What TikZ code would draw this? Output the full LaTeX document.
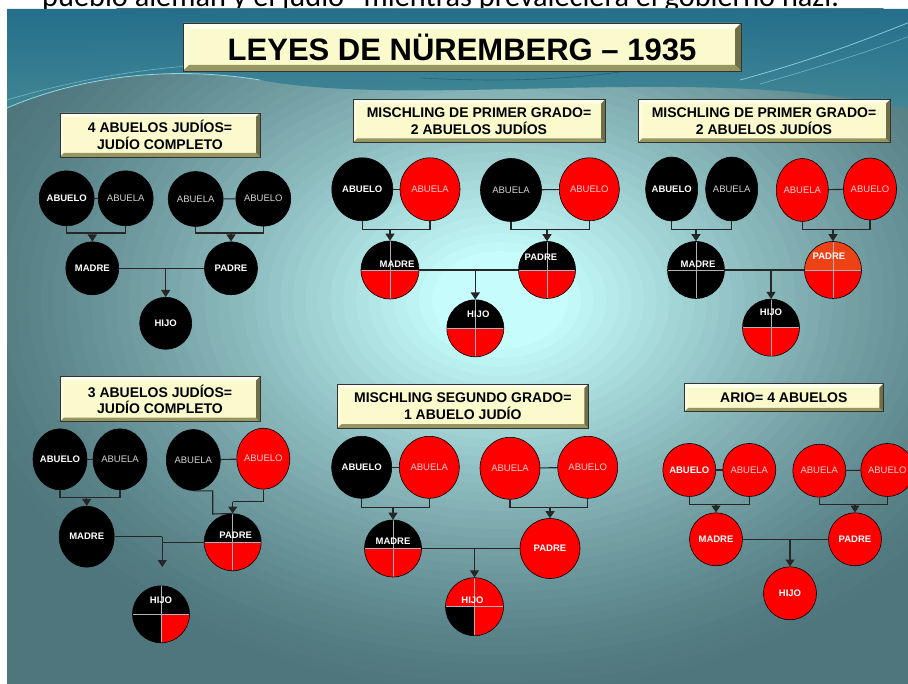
\documentclass[tikz,border=0pt]{standalone}
\usepackage{fontspec}
\setmainfont{Liberation Sans}
\newfontfamily\calibri{Carlito}
\usetikzlibrary{arrows.meta, shapes.geometric}

\definecolor{slidelight}{RGB}{198,252,252}
\definecolor{slidedark}{RGB}{78,118,124}
\definecolor{slidetop}{RGB}{34,110,140}
\definecolor{bandlow}{RGB}{66,136,150}
\definecolor{swoosh}{RGB}{170,235,245}
\definecolor{paper}{RGB}{250,250,205}
\definecolor{bevellight}{RGB}{255,255,236}
\definecolor{beveldark}{RGB}{150,150,96}
\definecolor{jewred}{RGB}{255,0,0}
\definecolor{padreorange}{RGB}{236,66,22}

\tikzset{
  >={Triangle[width=9pt,length=7pt]},
  link/.style={draw=black!85, line width=1.1pt},
  arr/.style={link, ->},
  person/.style={ellipse, draw=black, line width=0.6pt, inner sep=-3pt,
    text=white, font=\fontsize{9.5}{10}\selectfont\bfseries},
  dims/.style 2 args={minimum width=#1, minimum height=#2},
  soft/.style={font=\fontsize{9.5}{10}\selectfont, text opacity=0.82},
  jew/.style={person, fill=black},
  aryan/.style={person, fill=jewred},
  quarters/.style n args={4}{person, path picture={
    \fill[#1] (path picture bounding box.center) rectangle (path picture bounding box.north west);
    \fill[#2] (path picture bounding box.center) rectangle (path picture bounding box.north east);
    \fill[#3] (path picture bounding box.center) rectangle (path picture bounding box.south west);
    \fill[#4] (path picture bounding box.center) rectangle (path picture bounding box.south east);
    \draw[gray!60, line width=0.5pt]
      (path picture bounding box.north) -- (path picture bounding box.south)
      (path picture bounding box.west) -- (path picture bounding box.east);}},
  kidlbl/.style={text=white, font=\fontsize{9.5}{10}\selectfont\bfseries},
  tag/.style={draw=black!80, fill=paper, line width=0.6pt, align=center, inner sep=0pt,
    font=\fontsize{14}{16.5}\selectfont\bfseries},
  bevel/.style={path picture={
    \path (path picture bounding box.south west) coordinate (bsw)
          (path picture bounding box.south east) coordinate (bse)
          (path picture bounding box.north west) coordinate (bnw)
          (path picture bounding box.north east) coordinate (bne);
    \fill[bevellight] (bnw) -- (bne) -- ([shift={(-#1,-#1)}]bne) -- ([shift={(#1,-#1)}]bnw) -- cycle;
    \fill[bevellight!50!paper] (bnw) -- (bsw) -- ([shift={(#1,#1)}]bsw) -- ([shift={(#1,-#1)}]bnw) -- cycle;
    \fill[beveldark] (bsw) -- (bse) -- ([shift={(-#1,#1)}]bse) -- ([shift={(#1,#1)}]bsw) -- cycle;
    \fill[beveldark!75!black] (bse) -- (bne) -- ([shift={(-#1,-#1)}]bne) -- ([shift={(-#1,#1)}]bse) -- cycle;}},
}

\begin{document}
\begin{tikzpicture}[x=1pt, y=-1pt]
  \useasboundingbox (0,0) rectangle (908,684);
  \clip (0,0) rectangle (908,684);
  \fill[white] (0,0) rectangle (908,684);
  \node[anchor=base west, inner sep=0pt, font=\calibri\fontsize{30.3}{33}\selectfont] (quote) at (42,7)
    {pueblo alemán y el judío” mientras prevaleciera el gobierno nazi.};

  % slide background
  \begin{scope}
    \clip (7,9) rectangle (920,700);
    \fill[slidedark] (7,9) rectangle (920,700);
    \foreach \i in {0,...,39} {
      \pgfmathsetmacro\r{1-0.0225*\i}
      \pgfmathsetmacro\p{100*(\i/39)^1.3}
      \fill[slidelight!\p!slidedark] (500,300) ellipse [x radius=560*\r, y radius=400*\r];
    }
    \shade[top color=slidetop, bottom color=bandlow, opacity=0.95]
      (7,9) -- (920,9) -- (920,112) .. controls (720,60) and (420,110) .. (260,80)
      .. controls (150,62) and (60,85) .. (7,108) -- cycle;
    \draw[swoosh, opacity=0.8, line width=0.8pt] (7,108) .. controls (60,85) and (150,62) .. (260,80);
    \draw[swoosh, opacity=0.5, line width=0.6pt] (7,100) .. controls (120,66) and (240,56) .. (330,70);
    \draw[swoosh, opacity=0.7, line width=0.8pt] (740,80) .. controls (820,58) and (870,38) .. (920,18);
    \draw[swoosh, opacity=0.5, line width=0.6pt] (760,84) .. controls (830,64) and (880,48) .. (920,32);
    \draw[slidetop!60!black, opacity=0.5, line width=0.6pt] (420,78) .. controls (500,82) and (560,80) .. (620,72);
  \end{scope}

  \node[tag, bevel=6pt, dims={558}{48}, font=\fontsize{31}{34}\selectfont\bfseries] (title) at (462,47)
    {LEYES DE NÜREMBERG – 1935};

  % 4 abuelos judios
  \node[tag, bevel=4pt, dims={200}{44}] (t1) at (160,135) {4 ABUELOS JUDÍOS=\\JUDÍO COMPLETO};
  \node[jew, dims={55}{55}] (a1) at (66.7,198.3) {ABUELO};
  \node[jew, soft, dims={55}{55}] (b1) at (125.7,198.3) {ABUELA};
  \node[jew, soft, dims={55}{55}] (c1) at (195.7,199) {ABUELA};
  \node[jew, soft, dims={55}{55}] (d1) at (263.3,198.7) {ABUELO};
  \node[jew, dims={53}{53}] (m1) at (92.3,268.3) {MADRE};
  \node[jew, dims={53}{53}] (p1) at (231,268.3) {PADRE};
  \node[jew, dims={52}{52}] (h1) at (165.7,323.3) {HIJO};
  \coordinate (j1) at (92.3,233);
  \coordinate (l1) at (231,233);
  \coordinate (k1) at (165.7,268.3);
  \draw[link] (a1) -- (b1);
  \draw[link] (c1) -- (d1);
  \draw[link] (a1.south) |- (j1) -| (b1.south);
  \draw[link] (c1.south) |- (l1) -| (d1.south);
  \draw[arr] (j1) -- (m1);
  \draw[arr] (l1) -- (p1);
  \draw[link] (m1) -- (p1);
  \draw[arr] (k1) -- (h1);

  % mischling de primer grado, madre
  \node[tag, bevel=4pt, dims={252}{43}] (t2) at (479,121) {MISCHLING DE PRIMER GRADO=\\2 ABUELOS JUDÍOS};
  \node[jew, dims={61}{63}] (a2) at (362.3,189.3) {ABUELO};
  \node[aryan, soft, dims={60}{63}] (b2) at (430,189.3) {ABUELA};
  \node[jew, soft, dims={61}{63}] (c2) at (511,190) {ABUELA};
  \node[aryan, soft, dims={60}{63}] (d2) at (589.3,189.3) {ABUELO};
  \node[quarters={black}{black}{jewred}{jewred}, dims={58}{58},
    label={[kidlbl, xshift=7pt, yshift=6pt]center:MADRE}] (m2) at (390,270) {};
  \node[quarters={black}{black}{jewred}{jewred}, dims={57}{57},
    label={[kidlbl, xshift=-6pt, yshift=13pt]center:PADRE}] (p2) at (547,270) {};
  \node[quarters={black}{black}{jewred}{jewred}, dims={57}{57},
    label={[kidlbl, xshift=3pt, yshift=14pt]center:HIJO}] (h2) at (475.3,328.3) {};
  \coordinate (j2) at (390,229.3);
  \coordinate (l2) at (547,229.3);
  \coordinate (k2) at (475.3,270);
  \draw[link] (a2) -- (b2);
  \draw[link] (c2) -- (d2);
  \draw[link] (a2.south) |- (j2) -| (b2.south);
  \draw[link] (c2.south) |- (l2) -| (d2.south);
  \draw[arr] (j2) -- (m2);
  \draw[arr] (l2) -- (p2);
  \draw[link] (m2) -- (p2);
  \draw[arr] (k2) -- (h2);

  % mischling de primer grado, padre
  \node[tag, bevel=4pt, dims={252}{43}] (t3) at (764,121) {MISCHLING DE PRIMER GRADO=\\2 ABUELOS JUDÍOS};
  \node[jew, dims={52}{64}] (a3) at (671.7,189) {ABUELO};
  \node[jew, soft, dims={52}{64}] (b3) at (731.7,189) {ABUELA};
  \node[aryan, soft, dims={52}{63}] (c3) at (802.3,190) {ABUELA};
  \node[aryan, soft, dims={53}{62}] (d3) at (870,189) {ABUELO};
  \node[quarters={black}{black}{black}{black}, dims={57}{57},
    label={[kidlbl, xshift=2pt, yshift=6pt]center:MADRE}] (m3) at (696,270) {};
  \node[quarters={padreorange}{padreorange}{jewred}{jewred}, dims={57}{57},
    label={[kidlbl, xshift=-4pt, yshift=14pt]center:PADRE}] (p3) at (833,270) {};
  \node[quarters={black}{black}{jewred}{jewred}, dims={57}{57},
    label={[kidlbl, yshift=15pt]center:HIJO}] (h3) at (771,327.7) {};
  \coordinate (j3) at (696,229.3);
  \coordinate (l3) at (833,229.3);
  \coordinate (k3) at (771,270);
  \draw[link] (c3) -- (d3);
  \draw[link] (a3.south) |- (j3) -| (b3.south);
  \draw[link] (c3.south) |- (l3) -| (d3.south);
  \draw[arr] (j3) -- (m3);
  \draw[arr] (l3) -- (p3);
  \draw[link] (m3) -- (p3);
  \draw[arr] (k3) -- (h3);

  % 3 abuelos judios
  \node[tag, bevel=4pt, dims={200}{45}] (t4) at (160,399.2) {3 ABUELOS JUDÍOS=\\JUDÍO COMPLETO};
  \node[jew, dims={54}{61}] (a4) at (60,459.3) {ABUELO};
  \node[jew, soft, dims={54}{61}] (b4) at (120,459.3) {ABUELA};
  \node[jew, soft, dims={54}{61}] (c4) at (193.3,460) {ABUELA};
  \node[aryan, soft, dims={53}{61}] (d4) at (263.3,458.7) {ABUELO};
  \node[jew, dims={55}{61}] (m4) at (86.7,536.7) {MADRE};
  \node[quarters={black}{black}{jewred}{jewred}, dims={57}{57},
    label={[kidlbl, xshift=3pt, yshift=7pt]center:PADRE}] (p4) at (232.7,542.3) {};
  \node[quarters={black}{black}{black}{jewred}, dims={57}{57},
    label={[kidlbl, yshift=14pt]center:HIJO}] (h4) at (161,614.3) {};
  \coordinate (j4) at (86.7,497.3);
  \coordinate (l4) at (232.7,501.7);
  \coordinate (e4) at (212.7,514);
  \coordinate (k4) at (162.3,536.7);
  \coordinate (z4) at (162.3,567);
  \draw[link] (a4) -- (b4);
  \draw[link] (c4) -- (d4);
  \draw[link] (a4.south) |- (j4) -| (b4.south);
  \draw[arr] (j4) -- (m4);
  \draw[link] (c4.south) -| (e4) -- (p4.north);
  \draw[link] (d4.south) |- (l4);
  \draw[arr] (l4) -- (p4);
  \draw[link] (m4) -- (k4);
  \draw[link] (p4.west) -- (p4.west -| k4);
  \draw[arr] (k4) -- (z4);

  % mischling segundo grado
  \node[tag, bevel=4pt, dims={251}{44}] (t5) at (462.8,406.2) {MISCHLING SEGUNDO GRADO=\\1 ABUELO JUDÍO};
  \node[jew, dims={60}{62}] (a5) at (361.7,467.3) {ABUELO};
  \node[aryan, soft, dims={60}{62}] (b5) at (429.3,467.3) {ABUELA};
  \node[aryan, soft, dims={60}{62}] (c5) at (510,468.3) {ABUELA};
  \node[aryan, soft, dims={60}{62}] (d5) at (587.7,467.3) {ABUELO};
  \node[quarters={black}{black}{jewred}{jewred}, dims={57}{57},
    label={[kidlbl, yshift=7pt]center:MADRE}] (m5) at (393,548.5) {};
  \node[aryan, dims={60}{60}] (p5) at (550,548.5) {PADRE};
  \node[quarters={jewred}{jewred}{black}{jewred}, dims={58}{58},
    label={[kidlbl, xshift=-2pt, yshift=6pt]center:HIJO}] (h5) at (474.5,606.7) {};
  \coordinate (j5) at (393,507.7);
  \coordinate (l5) at (550,507.7);
  \coordinate (k5) at (474.5,548.5);
  \draw[link] (a5) -- (b5);
  \draw[link] (c5) -- (d5);
  \draw[link] (a5.south) |- (j5) -| (b5.south);
  \draw[link] (c5.south) |- (l5) -| (d5.south);
  \draw[arr] (j5) -- (m5);
  \draw[arr] (l5) -- (p5);
  \draw[link] (m5) -- (p5);
  \draw[arr] (k5) -- (h5);

  % ario
  \node[tag, bevel=4pt, dims={199}{28}] (t6) at (783.8,397.8) {ARIO= 4 ABUELOS};
  \node[aryan, dims={53}{53}] (a6) at (689.3,470) {ABUELO};
  \node[aryan, soft, dims={53}{53}] (b6) at (749.3,470) {ABUELA};
  \node[aryan, soft, dims={53}{53}] (c6) at (819.3,470.7) {ABUELA};
  \node[aryan, soft, dims={53}{53}] (d6) at (887.3,470) {ABUELO};
  \node[aryan, dims={53}{53}] (m6) at (716,539.3) {MADRE};
  \node[aryan, dims={53}{53}] (p6) at (855,539.3) {PADRE};
  \node[aryan, dims={53}{53}] (h6) at (790,593.3) {HIJO};
  \coordinate (j6) at (716,504.3);
  \coordinate (l6) at (855,504.3);
  \coordinate (k6) at (790,539.3);
  \draw[link] (a6) -- (b6);
  \draw[link] (c6) -- (d6);
  \draw[link] (a6.south) |- (j6) -| (b6.south);
  \draw[link] (c6.south) |- (l6) -| (d6.south);
  \draw[arr] (j6) -- (m6);
  \draw[arr] (l6) -- (p6);
  \draw[link] (m6) -- (p6);
  \draw[arr] (k6) -- (h6);
\end{tikzpicture}
\end{document}
